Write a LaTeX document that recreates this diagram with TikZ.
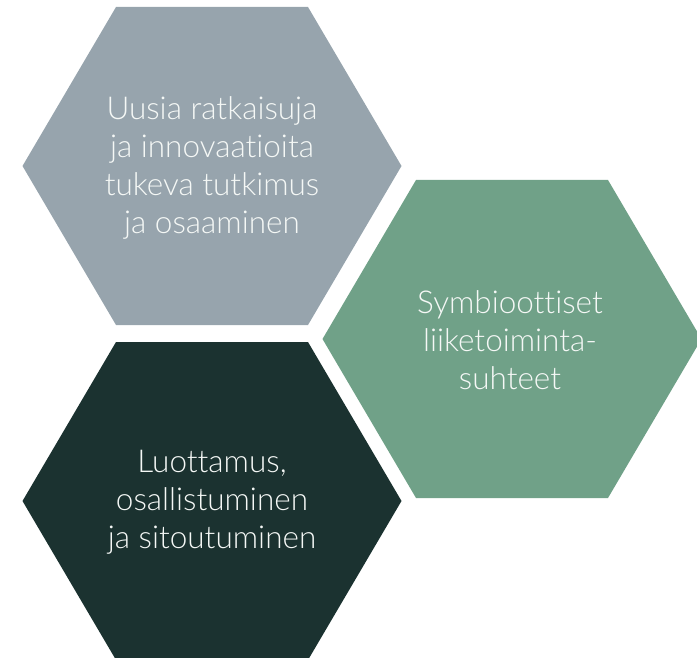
\documentclass[tikz,border=0pt]{standalone}
\usepackage{fontspec}
\setmainfont{Lato Light}[Ligatures=NoCommon]
\definecolor{hexgray}{RGB}{151,164,173}
\definecolor{hexgreen}{RGB}{112,161,136}
\definecolor{hexdark}{RGB}{27,50,48}
\definecolor{txtlight}{RGB}{245,248,246}
\tikzset{
  hexlabel/.style={align=center, text=txtlight, font=\fontsize{31.5}{38}\selectfont, inner sep=0pt},
}
\begin{document}
\begin{tikzpicture}[x=1pt,y=1pt]
\useasboundingbox (0,0) rectangle (697,-658);
\fill[hexgray]  (22.5,-166) -- (116,-7) -- (308,-7) -- (401.5,-166) -- (308,-325) -- (116,-325) -- cycle;
\fill[hexgreen] (322.5,-339) -- (416,-180) -- (608,-180) -- (701.5,-339) -- (608,-498) -- (416,-498) -- cycle;
\fill[hexdark]  (22.5,-501) -- (116,-342) -- (308,-342) -- (401.5,-501) -- (308,-660) -- (116,-660) -- cycle;
\node[hexlabel] (t1) at (212,-168) {Uusia ratkaisuja\\ja innovaatioita\\tukeva tutkimus\\ja osaaminen};
\node[hexlabel] (t2) at (510,-340) {Symbioottiset\\liiketoiminta-\\suhteet};
\node[hexlabel] (t3) at (212,-502) {Luottamus,\\osallistuminen\\ja sitoutuminen};
\end{tikzpicture}
\end{document}
